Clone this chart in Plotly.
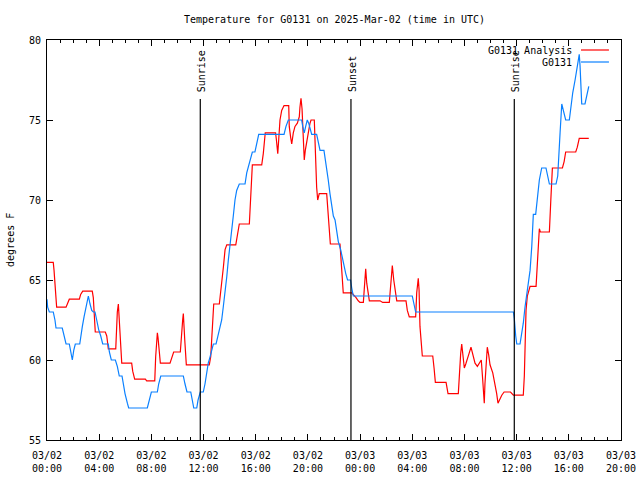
import plotly.graph_objects as go
import pandas as pd

BASE = "2025-03-02 00:00"
TITLE = "Temperature for G0131 on 2025-Mar-02 (time in UTC)"
Y_LABEL = "degrees F"

# G0131 observations: hours since BASE, temperature (F)
obs_hours = [0.0, 0.05, 0.18, 0.48, 0.61, 0.69, 1.17, 1.30, 1.46, 1.71, 1.84, 1.94, 2.05, 2.17, 2.51,
             2.58, 2.71, 2.84, 3.01, 3.17, 3.30, 3.43, 3.55, 3.68, 3.81, 3.96, 4.12, 4.27, 4.70, 4.78,
             4.93, 5.24, 5.39, 5.54, 5.75, 5.85, 5.98, 6.16, 6.26, 7.69, 7.80, 8.00, 8.46, 8.56, 8.72,
             10.45, 10.58, 10.73, 11.02, 11.12, 11.25, 11.48, 11.58, 11.75, 11.98, 12.11, 12.24, 12.36,
             12.50, 12.60, 12.75, 12.96, 13.09, 13.26, 13.39, 13.51, 13.65, 13.78, 13.90, 14.03, 14.16,
             14.28, 14.41, 14.54, 14.74, 15.18, 15.31, 15.43, 15.56, 15.74, 15.94, 16.08, 16.23, 18.17,
             18.32, 18.50, 19.52, 19.60, 19.72, 19.83, 19.95, 20.06, 20.16, 20.29, 20.67, 20.80, 20.93,
             21.23, 21.33, 21.44, 21.56, 21.69, 21.82, 21.95, 22.08, 22.21, 22.33, 22.51, 22.71, 22.90,
             23.04, 23.27, 23.36, 23.48, 28.00, 28.13, 28.26, 35.75, 35.82, 35.93, 36.01, 36.26, 36.39,
             36.51, 36.64, 36.77, 36.90, 37.03, 37.16, 37.28, 37.46, 37.59, 37.74, 37.92, 38.25, 38.38,
             38.51, 39.02, 39.15, 39.33, 39.46, 39.58, 39.76, 40.04, 40.15, 40.30, 40.48, 40.65, 40.80,
             40.86, 40.99, 41.24, 41.37, 41.53]
obs_temp = [63.8, 63.3, 63.0, 63.0, 62.5, 62.0, 62.0, 61.5, 61.0, 61.0, 60.4, 60.0, 60.6, 61.0, 61.0,
            61.5, 62.1, 62.7, 63.3, 64.0, 63.5, 63.1, 63.0, 63.0, 62.5, 61.9, 61.5, 61.0, 61.0, 60.5,
            60.0, 60.0, 59.6, 59.0, 59.0, 58.5, 57.9, 57.3, 57.0, 57.0, 57.3, 58.0, 58.0, 58.5, 59.0,
            59.0, 58.5, 58.0, 58.0, 57.5, 57.0, 57.0, 57.5, 58.0, 58.0, 58.5, 59.2, 59.8,
            60.2, 60.6, 61.0, 61.0, 61.5, 62.1, 62.5, 63.3, 64.2, 65.2, 66.25, 67.1, 67.9,
            69.0, 70.0, 70.6, 71.0, 71.0, 71.7, 72.1, 72.5, 73.0, 73.0, 73.5, 74.1, 74.1,
            74.6, 75.0, 75.0, 74.6, 74.2, 74.6, 75.0, 74.8, 74.5, 74.1, 74.1, 73.6, 73.1,
            73.1, 72.6, 72.0, 71.25, 70.4, 69.8, 69.0, 68.75, 68.0, 67.4, 66.9, 66.0, 65.4,
            65.0, 65.0, 64.5, 64.0, 64.0, 63.5, 63.0, 63.0, 62.6, 61.5, 61.0, 61.0, 61.6,
            62.3, 63.3, 64.1, 64.6, 65.6, 67.1, 69.1, 69.1, 70.2, 71.25, 72.0, 72.0, 71.5,
            71.0, 71.0, 71.5, 74.2, 76.0, 75.6, 75.0, 75.0, 75.8, 76.7, 77.5, 78.4, 79.1,
            78.4, 76.0, 76.0, 76.6, 77.1]

# G0131 Analysis: hours since BASE, temperature (F)
ana_hours = [0.0, 0.48, 0.54, 0.67, 0.74, 1.46, 1.56, 1.71, 2.48, 2.58, 2.74, 3.47, 3.55, 3.63, 3.70,
             4.47, 4.58, 4.62, 4.70, 5.27, 5.31, 5.39, 5.47, 5.50, 5.60, 5.73, 6.49, 6.57, 6.72, 7.54,
             7.64, 8.26, 8.33, 8.46, 8.51, 8.59, 8.69, 9.43, 9.56, 9.71, 10.22, 10.30, 10.40, 10.45,
             10.50, 10.56, 10.68, 12.44, 12.55, 12.65, 12.78, 13.21, 13.32, 13.39, 13.52, 13.65, 13.78,
             14.47, 14.59, 14.74, 15.51, 15.62, 15.74, 16.46, 16.58, 16.73, 17.52, 17.58, 17.61, 17.69,
             17.76, 17.86, 17.99, 18.17, 18.53, 18.57, 18.68, 18.76, 18.88, 19.01, 19.19, 19.34, 19.39,
             19.47, 19.55, 19.60, 19.65, 19.72, 19.80, 19.91, 20.03, 20.16, 20.24, 20.49, 20.57, 20.67,
             20.75, 20.87, 21.44, 21.56, 21.72, 22.46, 22.51, 22.59, 22.67, 22.71, 23.36, 23.48, 23.69,
             23.86, 23.99, 24.25, 24.32, 24.43, 24.51, 24.63, 24.71, 25.53, 25.73, 26.24, 26.35, 26.47,
             26.58, 26.68, 26.81, 27.52, 27.62, 27.77, 28.26, 28.34, 28.46, 28.52, 28.59, 28.77, 29.57,
             29.67, 29.77, 30.59, 30.74, 31.53, 31.61, 31.71, 31.79, 31.87, 31.91, 31.99, 32.10, 32.22,
             32.35, 32.50, 32.63, 32.81, 32.99, 33.14, 33.29, 33.40, 33.45, 33.52, 33.57, 33.65, 33.75,
             33.86, 33.96, 34.17, 34.32, 34.47, 34.57, 34.73, 34.86, 35.04, 35.53, 35.75, 36.51, 36.59,
             36.64, 36.72, 36.82, 36.97, 37.03, 37.49, 37.59, 37.70, 37.74, 37.82, 38.51, 38.62, 38.74,
             39.51, 39.64, 39.76, 40.53, 40.65, 40.80, 41.53]
ana_temp = [66.1, 66.1, 65.6, 63.75, 63.3, 63.3, 63.5, 63.8, 63.8, 64.1, 64.3, 64.3, 63.9, 62.1, 61.75,
            61.75, 61.5, 61.25, 60.7, 60.7, 62.1, 63.0, 63.5, 63.0, 61.7, 59.8, 59.8, 59.3, 58.8, 58.8,
            58.7, 58.7, 60.2, 61.7, 61.4, 60.6, 59.8, 59.8, 60.2, 60.5, 60.5, 61.7, 62.5, 62.9,
            62.4, 61.25, 59.7, 59.7, 60.2, 62.1, 63.5, 63.5, 64.2, 64.8, 65.8, 66.9, 67.2,
            67.2, 67.9, 68.5, 68.5, 70.4, 72.2, 72.2, 72.9, 74.2, 74.2, 73.8, 73.3, 72.9,
            73.75, 75.0, 75.6, 75.9, 75.9, 74.6, 73.9, 73.5, 74.2, 74.6, 74.8, 75.2, 75.8,
            76.35, 75.7, 74.4, 73.2, 72.5, 73.1, 73.75, 74.2, 74.8, 75.0, 75.0, 72.5, 70.8,
            70.0, 70.4, 70.4, 68.9, 67.25, 67.25, 66.5, 65.8, 64.8, 64.2, 64.2, 64.1, 63.9,
            63.7, 63.6, 63.6, 64.8, 65.7, 64.8, 64.1, 63.7, 63.7, 63.6, 63.6, 64.8, 65.9,
            65.0, 64.5, 63.7, 63.7, 63.1, 62.7, 62.7, 64.2, 65.1, 64.4, 62.1, 60.25, 60.25,
            59.5, 58.6, 58.6, 57.9, 57.9, 59.4, 60.4, 61.0, 60.4, 60.0, 59.5, 59.75, 60.0,
            60.4, 60.8, 60.3, 59.8, 59.6, 59.8, 60.0, 58.75, 57.9, 57.3, 58.5, 59.6, 60.8,
            60.3, 59.7, 59.2, 58.6, 57.9, 57.3, 57.6, 57.8, 58.0, 58.0, 57.8, 57.8, 59.0,
            61.0, 63.1, 64.0, 64.5, 64.6, 64.6, 65.8, 67.1, 68.2, 68.0, 68.0, 70.0, 72.0,
            72.0, 72.4, 73.0, 73.0, 73.3, 73.85, 73.85]

# Sun events: hours since BASE
event_names = ["Sunrise", "Sunset", "Sunrise"]
event_hours = [11.75, 23.30, 35.82]

tick_hours = [0, 4, 8, 12, 16, 20, 24, 28, 32, 36, 40, 44]
tick_labels = ["03/02<br>00:00", "03/02<br>04:00", "03/02<br>08:00", "03/02<br>12:00",
               "03/02<br>16:00", "03/02<br>20:00", "03/03<br>00:00", "03/03<br>04:00",
               "03/03<br>08:00", "03/03<br>12:00", "03/03<br>16:00", "03/03<br>20:00"]
y_ticks = [55, 60, 65, 70, 75, 80]

series_names = ["G0131 Analysis", "G0131"]
series_colors = ["#ff0000", "#0a80ff"]

base = pd.Timestamp(BASE)
def to_time(hours):
    return [base + pd.Timedelta(hours=h) for h in hours]

FONT = "DejaVu Sans Mono"

fig = go.Figure()
fig.add_trace(go.Scatter(x=to_time(ana_hours), y=ana_temp, mode="lines",
                         line=dict(color=series_colors[0], width=1.2), name=series_names[0],
                         showlegend=False))
fig.add_trace(go.Scatter(x=to_time(obs_hours), y=obs_temp, mode="lines",
                         line=dict(color=series_colors[1], width=1.2), name=series_names[1],
                         showlegend=False))

# sun event lines and labels
for name, h in zip(event_names, event_hours):
    t = base + pd.Timedelta(hours=h)
    fig.add_shape(type="line", xref="x", yref="paper", x0=t, x1=t, y0=0, y1=0.8525,
                  line=dict(color="black", width=1.2))
    fig.add_annotation(x=t, xref="x", yref="paper", y=0.865, yanchor="bottom", xanchor="center",
                       text=name, textangle=-90, showarrow=False, xshift=1,
                       font=dict(family=FONT, size=10, color="black"))

# custom legend (text left of sample line, like gnuplot)
leg_y = [0.975, 0.945]
for name, color, yy in zip(series_names, series_colors, leg_y):
    fig.add_annotation(x=0.918, y=yy, xref="paper", yref="paper", xanchor="right",
                       yanchor="middle", text=name, showarrow=False,
                       font=dict(family=FONT, size=10, color="black"))
    fig.add_shape(type="line", xref="paper", yref="paper", x0=0.9303, x1=0.979, y0=yy, y1=yy,
                  line=dict(color=color, width=1.2))

# y label
fig.add_annotation(x=-0.0645, y=0.5, xref="paper", yref="paper", text=Y_LABEL, textangle=-90,
                   showarrow=False, xanchor="center", yanchor="middle",
                   font=dict(family=FONT, size=10, color="black"))

# title
fig.add_annotation(x=0.5, y=1.05, xref="paper", yref="paper", text=TITLE, showarrow=False,
                   xanchor="center", yanchor="middle",
                   font=dict(family=FONT, size=10, color="black"))

fig.update_layout(
    width=640, height=480,
    margin=dict(l=47, r=19, t=40, b=40, autoexpand=False),
    paper_bgcolor="white", plot_bgcolor="white",
    font=dict(family=FONT, size=10, color="black"),
    showlegend=False,
)
fig.update_xaxes(
    type="date", automargin=False,
    range=[base, base + pd.Timedelta(hours=44)],
    tickmode="array", tickvals=to_time(tick_hours), ticktext=tick_labels,
    ticks="inside", ticklen=6, tickwidth=1, tickcolor="black",
    minor=dict(ticks="inside", ticklen=3, tickcolor="black", tickmode="linear",
               tick0=base, dtick=3600000),
    showline=True, linecolor="black", linewidth=1, mirror="allticks",
    showgrid=False, zeroline=False, ticklabelstandoff=6,
    tickfont=dict(family=FONT, size=10, color="black"),
)
fig.update_yaxes(
    range=[55, 80], tickmode="array", tickvals=y_ticks, automargin=False,
    ticks="inside", ticklen=6, tickwidth=1, tickcolor="black",
    showline=True, linecolor="black", linewidth=1, mirror="allticks",
    showgrid=False, zeroline=False, ticklabelstandoff=3,
    tickfont=dict(family=FONT, size=10, color="black"),
)

fig.write_html("out.html", config={"displayModeBar": False},
               post_script="document.body.style.margin='0';")
